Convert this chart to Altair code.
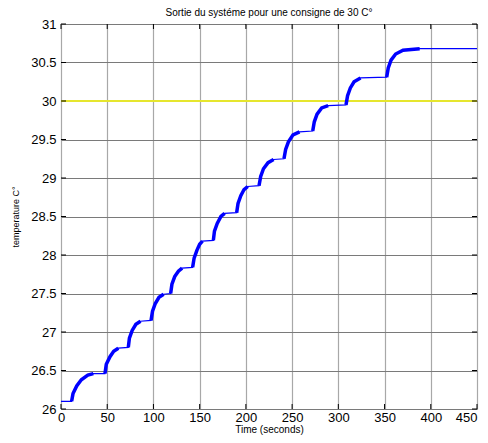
import altair as alt
import pandas as pd

# upper envelope of the system output (time s, temperature C)
time = [0, 11.5, 13, 17, 22, 29, 35, 47.6, 49, 53, 57, 62, 72.8, 74, 77, 81, 86,
        97.4, 99, 102, 106, 111, 118.6, 120, 123, 127, 131, 142.4, 144, 147, 150, 153,
        164.8, 166, 169, 173, 177, 190, 191.5, 194.5, 198, 202, 214.2, 216, 219, 224, 230,
        241.2, 243, 246, 251, 258, 272.3, 274, 277, 282, 289, 308.3, 310, 313, 317, 324,
        352.3, 354, 357, 362, 370, 388, 450]
temp = [26.10, 26.10, 26.20, 26.30, 26.38, 26.44, 26.46, 26.46, 26.58, 26.68, 26.75, 26.79,
        26.80, 26.92, 27.02, 27.10, 27.14, 27.15, 27.27, 27.37, 27.45, 27.49, 27.50, 27.62,
        27.72, 27.79, 27.83, 27.84, 27.96, 28.06, 28.14, 28.18, 28.19, 28.31, 28.41, 28.50,
        28.54, 28.55, 28.67, 28.77, 28.85, 28.89, 28.90, 29.02, 29.12, 29.20, 29.24, 29.25,
        29.37, 29.47, 29.56, 29.60, 29.61, 29.73, 29.83, 29.91, 29.94, 29.95, 30.07, 30.17,
        30.25, 30.30, 30.31, 30.43, 30.53, 30.61, 30.66, 30.68, 30.68]
# noisy rise phases (start, end) in seconds
rise_start = [11.5, 47.6, 72.8, 97.4, 118.6, 142.4, 164.8, 190, 214.2, 241.2, 272.3, 308.3, 352.3]
rise_end = [35, 62, 86, 111, 131, 153, 177, 202, 230, 258, 289, 324, 388]

setpoint = [30]
x_ticks = [0, 50, 100, 150, 200, 250, 300, 350, 400, 450]
y_ticks = [26, 26.5, 27, 27.5, 28, 28.5, 29, 29.5, 30, 30.5, 31]

df = pd.DataFrame({"t": time, "v": temp})
rows = []
for i, (s, e) in enumerate(zip(rise_start, rise_end)):
    for t, v in zip(time, temp):
        if s <= t <= e:
            rows.append({"t": t, "v": v, "seg": i})
rise_df = pd.DataFrame(rows)

xs = alt.Scale(domain=[0, 450], nice=False, zero=False)
ys = alt.Scale(domain=[26, 31], nice=False, zero=False)

FONT = "Liberation Sans"

x_axis = alt.Axis(values=x_ticks, title="Time (seconds)", titleFontSize=10, titleFontWeight="normal",
                  labelFontSize=13, labelColor="black", titleColor="black", labelFont=FONT, titleFont=FONT,
                  grid=True, gridColor="#a8a8a8", gridWidth=1.2, ticks=False, domain=False,
                  labelPadding=2, titlePadding=0, labelFlush=False, labelOverlap=False, format="d",
                  labelAlign={"condition": {"test": "datum.value >= 450", "value": "right"},
                              "value": "center"})
y_axis = alt.Axis(values=y_ticks, title="temperature C°", titleFontSize=9, titleFontWeight="normal",
                  labelFontSize=13, labelColor="black", titleColor="black", labelFont=FONT, titleFont=FONT,
                  grid=True, gridColor="#7a7a7a", gridWidth=1, ticks=False, domain=False,
                  labelPadding=5, titlePadding=10, labelFlush=False, labelOverlap=False, format="~g")


def X(field="t"):
    return alt.X(f"{field}:Q", scale=xs, axis=x_axis)


def Y(field="v"):
    return alt.Y(f"{field}:Q", scale=ys, axis=y_axis)


yellow = alt.Chart(pd.DataFrame({"v": setpoint})).mark_rule(color="#e6e62e", strokeWidth=2).encode(
    y=Y()
)

line = alt.Chart(df).mark_line(color="#0000ff", strokeWidth=1.2).encode(x=X(), y=Y())

fuzz = alt.Chart(rise_df).mark_line(color="#0000ff", strokeWidth=3.5, strokeCap="butt").encode(
    x=X(), y=Y(), detail="seg:N"
)

# inward tick marks on all four sides
bt = pd.DataFrame({"t": x_ticks})
lt = pd.DataFrame({"v": y_ticks})
ticks_bottom = alt.Chart(bt).mark_rule(color="black").encode(
    x=X(), y=alt.value(385), y2=alt.value(380))
ticks_top = alt.Chart(bt).mark_rule(color="black").encode(
    x=X(), y=alt.value(0), y2=alt.value(5))
ticks_left = alt.Chart(lt).mark_rule(color="black").encode(
    y=Y(), x=alt.value(0), x2=alt.value(5))
ticks_right = alt.Chart(lt).mark_rule(color="black").encode(
    y=Y(), x=alt.value(416), x2=alt.value(411))

chart = alt.layer(yellow, line, fuzz, ticks_bottom, ticks_top, ticks_left, ticks_right).properties(
    width=416, height=385,
    title=alt.TitleParams("Sortie du systéme pour une consigne de 30 C°", fontSize=10, font=FONT,
                          fontWeight="normal", color="black", offset=0),
    autosize=alt.AutoSizeParams(type="none"),
    padding={"left": 53, "top": 16, "right": 3, "bottom": 26},
).configure_view(stroke="black", strokeWidth=2).configure(background="white")

chart.save("out.html", embed_options={"renderer": "svg", "actions": False})
